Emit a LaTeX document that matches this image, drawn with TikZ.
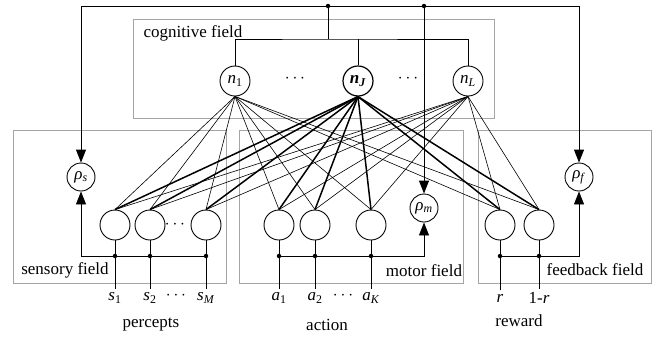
\documentclass[tikz,border=0pt]{standalone}
\usepackage{fontspec}
\setmainfont{Liberation Serif}
\usepackage{xcolor}
\usetikzlibrary{arrows.meta, positioning}

\definecolor{fieldgray}{RGB}{165,165,165}
\newcommand{\vsym}[2]{\textit{#1}\textsubscript{#2}}

\tikzset{
    catnode/.style={circle, draw, minimum size=30pt, inner sep=0pt},
    innode/.style={circle, draw, minimum size=30pt, inner sep=0pt},
    rhonode/.style={circle, draw, minimum size=28pt, inner sep=0pt},
    field/.style={draw=fieldgray, line width=0.9pt},
    link/.style={line width=0.6pt},
    strong/.style={line width=1.5pt},
    junction/.style={circle, fill, inner sep=0pt, minimum size=4.5pt},
    feed/.style={-{Triangle[length=13pt,width=10pt]}, line width=0.9pt},
}

\begin{document}
\begin{tikzpicture}[x=1pt, y=-1pt, font=\fontsize{17}{20}\selectfont, line width=0.9pt]
        \useasboundingbox (0,0) rectangle (659,338);

        % Add the fields
        \draw[field] (133,19) rectangle (494,118);
        \draw[field] (13,130) rectangle (226,283);
        \draw[field] (239,130) rectangle (463,283);
        \draw[field] (478,130) rectangle (651,283);
        \node (lcog)  at (193,33)  {cognitive field};
        \node (lsens) at (65,270)  {sensory field};
        \node (lmot)  at (424,271) {motor field};
        \node (lfeed) at (595,270) {feedback field};

        % Add the category nodes
        \node[catnode]             (n1) at (235,81) {\vsym{n}{1}};
        \node[catnode, very thick] (nJ) at (358,81) {\textbf{\vsym{n}{\textit{J}}}};
        \node[catnode]             (nL) at (468,81) {\vsym{n}{\textit{L}}};
        \node (cdots1) at (295,79) {$\cdots$};
        \node (cdots2) at (408,79) {$\cdots$};

        % Add the input nodes
        \node[innode] (s1) at (115,225) {};
        \node[innode] (s2) at (150,225) {};
        \node[innode] (sM) at (206,225) {};
        \node[innode] (a1) at (279,225) {};
        \node[innode] (a2) at (315,225) {};
        \node[innode] (aK) at (371,225) {};
        \node[innode] (r1) at (500,225) {};
        \node[innode] (r2) at (539,225) {};
        \node (idots1) at (175,225) {$\cdots$};

        % Add the vigilance nodes
        \node[rhonode] (rhos) at (81,177)  {\vsym{ρ}{\textit{s}}};
        \node[rhonode] (rhom) at (424,208) {\vsym{ρ}{\textit{m}}};
        \node[rhonode] (rhof) at (579,177) {\vsym{ρ}{\textit{f}}};

        % Add the input labels
        \node (ls1) at (115,298) {\vsym{s}{1}};
        \node (ls2) at (150,298) {\vsym{s}{2}};
        \node (lsd) at (176,296) {$\cdots$};
        \node (lsM) at (206,298) {\vsym{s}{\textit{M}}};
        \node (la1) at (279,298) {\vsym{a}{1}};
        \node (la2) at (315,298) {\vsym{a}{2}};
        \node (lad) at (343,296) {$\cdots$};
        \node (laK) at (371,298) {\vsym{a}{\textit{K}}};
        \node (lr1) at (500,298) {\textit{r}};
        \node (lr2) at (539,298) {1-\textit{r}};
        \node (lperc) at (151,325) {percepts};
        \node (lact)  at (327,325) {action};
        \node (lrew)  at (519,321) {reward};

        % Connect the category nodes with the input nodes
        \draw[link]
            (n1.south) edge (s1.north)
            (n1.south) edge (s2.north)
            (n1.south) edge (sM.north)
            (n1.south) edge (a1.north)
            (n1.south) edge (a2.north)
            (n1.south) edge (aK.north)
            (n1.south) edge (r1.north)
            (n1.south) edge (r2.north)
            (nL.south) edge (s1.north)
            (nL.south) edge (s2.north)
            (nL.south) edge (sM.north)
            (nL.south) edge (a1.north)
            (nL.south) edge (a2.north)
            (nL.south) edge (aK.north)
            (nL.south) edge (r1.north)
            (nL.south) edge (r2.north);
        \draw[strong]
            (nJ.south) edge (s1.north)
            (nJ.south) edge (s2.north)
            (nJ.south) edge (sM.north)
            (nJ.south) edge (a1.north)
            (nJ.south) edge (a2.north)
            (nJ.south) edge (aK.north)
            (nJ.south) edge (r1.north)
            (nJ.south) edge (r2.north);

        % Top feedback lines
        \node[junction] (jt1) at (328,6) {};
        \node[junction] (jt2) at (424,6) {};
        \coordinate (cbus) at (328,39);
        \draw[feed] (jt1.center) -| (rhos.north);
        \draw[feed] (jt1.center) -| (rhof.north);
        \draw[feed] (jt2.center) -- (rhom.north);
        \draw (jt1.center) -- (cbus);
        \draw (n1.north) |- (cbus) -| (nL.north);
        \draw (nJ.north) -- (nJ.north |- cbus);

        % Bottom input buses
        \node[junction] (js1) at (115,256) {};
        \node[junction] (js2) at (150,256) {};
        \node[junction] (jsM) at (206,256) {};
        \node[junction] (ja1) at (279,256) {};
        \node[junction] (ja2) at (315,256) {};
        \node[junction] (jaK) at (371,256) {};
        \node[junction] (jr1) at (500,256) {};
        \node[junction] (jr2) at (539,256) {};
        \draw[feed] (jsM.center) -| (rhos.south);
        \draw[feed] (ja1.center) -| (rhom.south);
        \draw[feed] (jr1.center) -| (rhof.south);
        \draw
            (s1) -- (ls1) (s2) -- (ls2) (sM) -- (lsM)
            (a1) -- (la1) (a2) -- (la2) (aK) -- (laK)
            (r1) -- (lr1) (r2) -- (lr2);
    \end{tikzpicture}
\end{document}
